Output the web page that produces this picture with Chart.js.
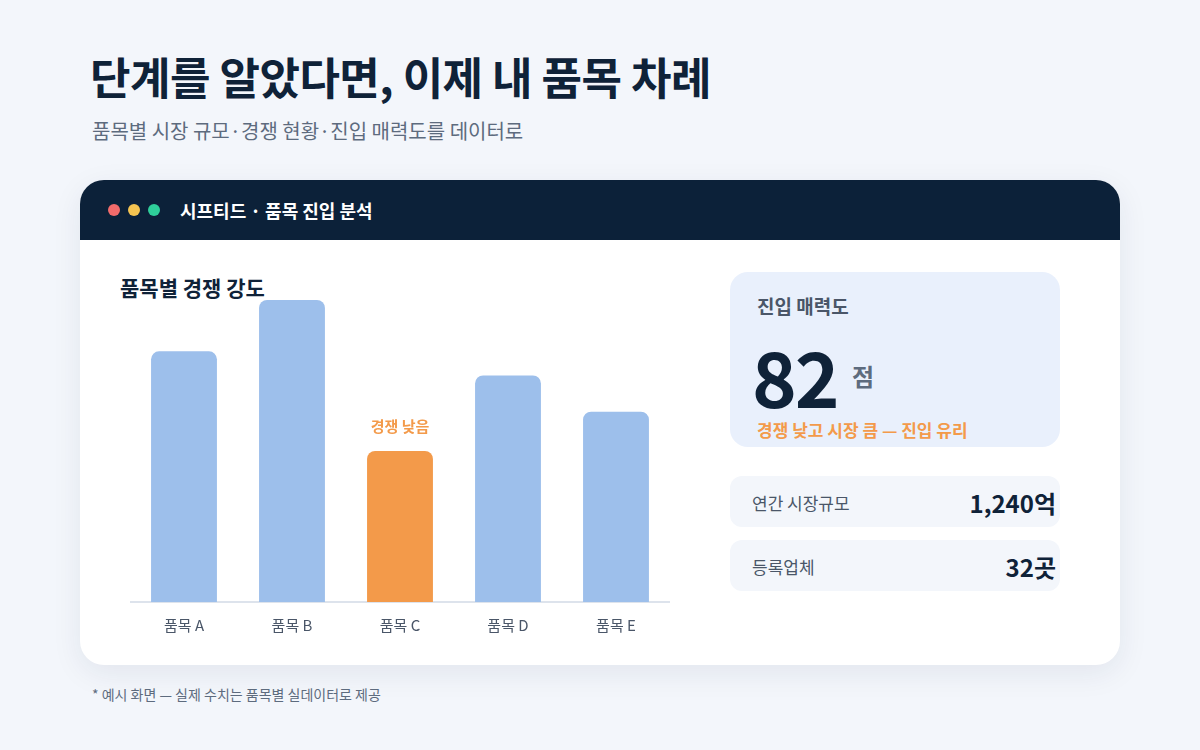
<!DOCTYPE html>
<html><head><meta charset="utf-8">
<script src="https://cdn.jsdelivr.net/npm/chart.js@4"></script>
<style>
*{margin:0;padding:0;box-sizing:border-box}
body{width:1200px;height:750px;background:#f3f6fb;font-family:"Noto Sans CJK KR","Noto Sans",sans-serif;position:relative;overflow:hidden;color:#0f2238}
.abs{position:absolute}
h1{position:absolute;left:90px;top:44px;font-size:44px;font-weight:700;color:#0f2238;letter-spacing:-0.5px}
.sub{left:92px;top:116px;font-size:20px;color:#5d6b7e}
.card{left:80px;top:180px;width:1040px;height:485px;background:#fff;border-radius:24px;overflow:hidden;box-shadow:0 8px 30px rgba(20,40,80,0.08)}
.head{left:0;top:0;width:1040px;height:60px;background:#0c2139}
.dot{width:12px;height:12px;border-radius:6px;top:24px}
.htitle{left:100px;top:17px;color:#fff;font-size:18px;font-weight:700}
.ctitle{left:40px;top:92px;font-size:21px;font-weight:700;color:#0f2238}
.box{left:650px;top:92px;width:330px;height:175px;background:#e9f0fc;border-radius:18px}
.row{left:650px;width:330px;height:51px;background:#f3f6fb;border-radius:12px}
.rl{left:22px;top:14px;font-size:17px;color:#4a5668}
.rv{right:4px;top:9px;font-size:24px;font-weight:700;color:#0f2238}
.foot{left:92px;top:684px;font-size:14px;color:#5d6b7e}
</style></head><body>
<h1>단계를 알았다면, 이제 내 품목 차례</h1>
<div class="abs sub">품목별 시장 규모·경쟁 현황·진입 매력도를 데이터로</div>
<div class="abs card">
 <div class="abs head">
  <div class="abs dot" style="left:28px;background:#f26b6b"></div>
  <div class="abs dot" style="left:48px;background:#f5c451"></div>
  <div class="abs dot" style="left:68px;background:#2fcf9a"></div>
  <div class="abs htitle">시프티드 · 품목 진입 분석</div>
 </div>
 <div class="abs ctitle">품목별 경쟁 강도</div>
 <div class="abs" style="left:50px;top:100px;width:540px;height:360px"><canvas id="c"></canvas></div>
 <div class="abs box">
  <div class="abs" style="left:27px;top:20px;font-size:19px;font-weight:600;color:#4a5668">진입 매력도</div>
  <div class="abs" style="left:22px;top:48px;font-size:76px;font-weight:700;color:#0f2238;letter-spacing:-2px">82</div>
  <div class="abs" style="left:122px;top:86px;font-size:24px;font-weight:700;color:#5d6b7e">점</div>
  <div class="abs" style="left:27px;top:145px;font-size:17px;font-weight:700;color:#f39a4a">경쟁 낮고 시장 큼 — 진입 유리</div>
 </div>
 <div class="abs row" style="top:296px"><div class="abs rl">연간 시장규모</div><div class="abs rv">1,240억</div></div>
 <div class="abs row" style="top:360px"><div class="abs rl">등록업체</div><div class="abs rv">32곳</div></div>
</div>
<div class="abs foot">* 예시 화면 — 실제 수치는 품목별 실데이터로 제공</div>
<script>
const categories=["품목 A","품목 B","품목 C","품목 D","품목 E"];
const intensity=[83,100,50,75,63];
const highlightIndex=2;
const highlightLabel="경쟁 낮음";
const labelPlugin={id:'lbl',afterDatasetsDraw(ch){const m=ch.getDatasetMeta(0).data[highlightIndex];const x=ch.ctx;x.save();x.font='bold 15px "Noto Sans CJK KR"';x.fillStyle='#f39a4a';x.textAlign='center';x.fillText(highlightLabel,m.x,m.y-19);x.restore();}};
new Chart(document.getElementById('c'),{type:'bar',data:{labels:categories,datasets:[{data:intensity,backgroundColor:intensity.map((v,i)=>i===highlightIndex?'#f39a4a':'#9dbfeb'),borderRadius:{topLeft:8,topRight:8},borderSkipped:'bottom',barPercentage:0.61,categoryPercentage:1}]},
options:{responsive:true,maintainAspectRatio:false,animation:false,layout:{padding:{top:20}},plugins:{legend:{display:false},tooltip:{enabled:false}},
scales:{y:{display:false,min:0,max:100},x:{grid:{display:false},border:{color:'#dde3ec',width:2},ticks:{color:'#4a5668',font:{size:15,family:'"Noto Sans CJK KR"'},padding:6}}}},plugins:[labelPlugin]});
</script>
</body></html>
